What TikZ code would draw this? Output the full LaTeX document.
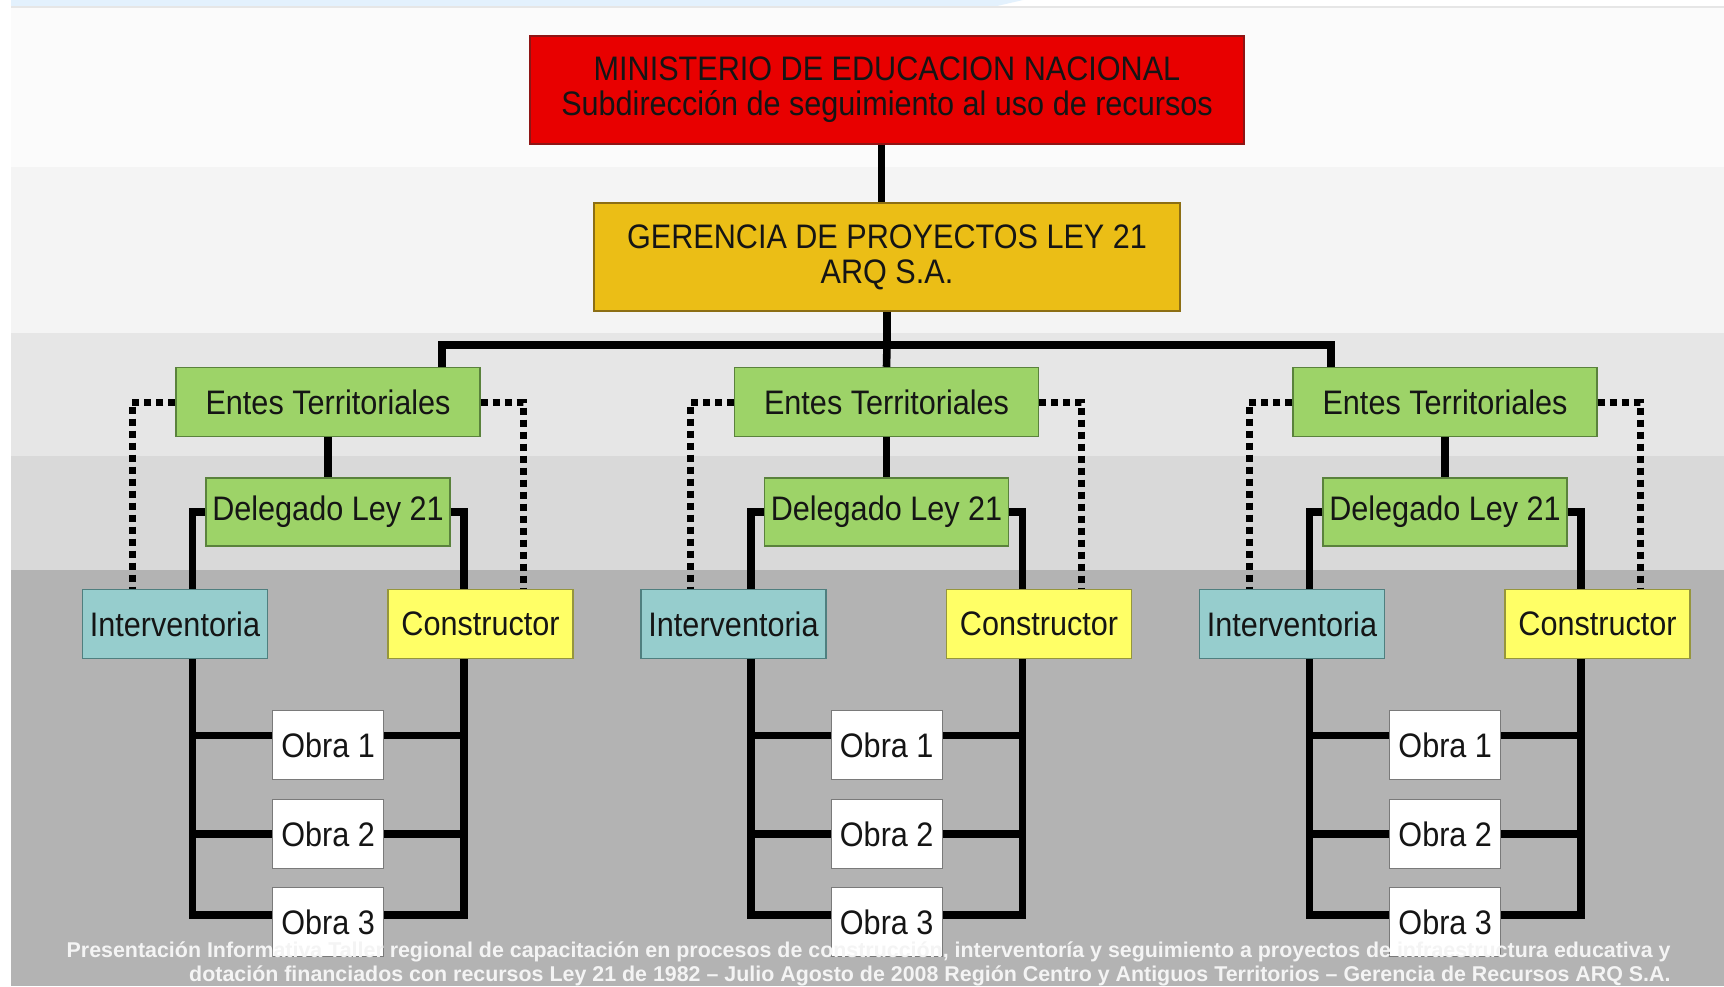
\documentclass[tikz,border=0pt]{standalone}
\usepackage{fontspec}
\setmainfont{Liberation Sans}[FakeStretch=0.9]
\newfontfamily\footfont{Liberation Sans}
\usetikzlibrary{calc}
\definecolor{topblue}{HTML}{E3F1FD}
\definecolor{bandA}{HTML}{FBFBFB}
\definecolor{bandB}{HTML}{F4F4F4}
\definecolor{bandC}{HTML}{E6E6E6}
\definecolor{bandD}{HTML}{D9D9D9}
\definecolor{bandE}{HTML}{B3B3B3}
\definecolor{redfill}{HTML}{E80000}
\definecolor{redline}{HTML}{8E1515}
\definecolor{goldfill}{HTML}{EBBE16}
\definecolor{goldline}{HTML}{8C6E14}
\definecolor{greenfill}{HTML}{9DD368}
\definecolor{greenline}{HTML}{5A823C}
\definecolor{tealfill}{HTML}{96CDCD}
\definecolor{tealline}{HTML}{4F7F7F}
\definecolor{yelfill}{HTML}{FFFF66}
\definecolor{yelline}{HTML}{96963C}
\definecolor{obraline}{HTML}{7A7A7A}
\definecolor{foottext}{HTML}{F4F4F4}
\definecolor{inktext}{HTML}{151515}
\tikzset{
  basebox/.style={draw, line width=0.7pt, inner sep=0pt, align=center, text=inktext,
    font=\fontsize{17pt}{17.5pt}\selectfont},
  redbox/.style={basebox, fill=redfill, draw=redline, minimum width=357pt, minimum height=54pt},
  goldbox/.style={basebox, fill=goldfill, draw=goldline, minimum width=293pt, minimum height=54pt},
  entesbox/.style={basebox, fill=greenfill, draw=greenline, minimum width=152pt, minimum height=34.5pt},
  delbox/.style={basebox, fill=greenfill, draw=greenline, minimum width=122pt, minimum height=34pt},
  intbox/.style={basebox, fill=tealfill, draw=tealline, minimum width=92.5pt, minimum height=34.5pt},
  conbox/.style={basebox, fill=yelfill, draw=yelline, minimum width=92.5pt, minimum height=34.5pt},
  obrabox/.style={basebox, fill=white, draw=obraline, minimum width=55.5pt, minimum height=34.5pt},
  conn/.style={draw=black, line width=3.8pt, line join=miter},
  dots/.style={draw=black, line width=3.5pt, dash pattern=on 3.5pt off 2.5pt},
  foot/.style={inner sep=0pt, text=foottext, font=\footfont\bfseries\fontsize{10.7pt}{12pt}\selectfont}
}
\begin{document}
\begin{tikzpicture}[x=0.5pt, y=-0.5pt]
\useasboundingbox (0,0) rectangle (1724,986);
% background
\fill[white] (0,0) rectangle (1724,986);
\fill[bandA] (11,7) rectangle (1724,167);
\fill[bandB] (11,167) rectangle (1724,333);
\fill[bandC] (11,333) rectangle (1724,456);
\fill[bandD] (11,456) rectangle (1724,570);
\fill[bandE] (11,570) rectangle (1724,986);
\fill[topblue] (11,0) -- (1023,0) -- (997,6) -- (11,6) -- cycle;
\fill[bandC] (11,6) rectangle (1724,7.5);

% top boxes
\node[redbox] (min) at (887,90) {MINISTERIO DE EDUCACION NACIONAL\\Subdirección de seguimiento al uso de recursos};
\node[goldbox] (ger) at (887,257) {GERENCIA DE PROYECTOS LEY 21\\ARQ S.A.};

\foreach \g in {0,1,2} {
  \pgfmathsetmacro{\dx}{558.5*\g}
  \node[entesbox] (e\g) at (328+\dx,402) {Entes Territoriales};
  \node[delbox] (d\g) at (328+\dx,512) {Delegado Ley 21};
  \node[intbox] (i\g) at (175+\dx,624) {Interventoria};
  \node[conbox] (c\g) at (480.5+\dx,624) {Constructor};
  \node[obrabox] (oa\g) at (328.2+\dx,745) {Obra 1};
  \node[obrabox] (ob\g) at (328.2+\dx,834) {Obra 2};
  \node[obrabox] (oc\g) at (328.2+\dx,922) {Obra 3};
  % connectors
  \draw[conn] (e\g.south) -- (d\g.north);
  \draw[conn] (d\g.west) -| ([xshift=8.75pt]i\g.north);
  \draw[conn] (d\g.east) -| ([xshift=-8.25pt]c\g.north);
  \draw[dots] (e\g.west) -| ([xshift=-21.5pt]i\g.north);
  \draw[dots] (e\g.east) -| ([xshift=21.25pt]c\g.north);
  \coordinate (li\g) at ([xshift=8.75pt]i\g.south);
  \coordinate (ri\g) at ([xshift=-8.25pt]c\g.south);
  \coordinate (oaL\g) at ([yshift=4.7pt]oa\g.west);
  \coordinate (oaR\g) at ([yshift=4.7pt]oa\g.east);
  \coordinate (ocL\g) at ([yshift=3.5pt]oc\g.west);
  \coordinate (ocR\g) at ([yshift=3.5pt]oc\g.east);
  \draw[conn] (li\g) |- (ocL\g);
  \draw[conn] (ri\g) |- (ocR\g);
  \draw[conn] (oaL\g) -- (li\g |- oaL\g);
  \draw[conn] (oaR\g) -- (ri\g |- oaR\g);
  \draw[conn] (ob\g.west) -- (li\g |- ob\g.west);
  \draw[conn] (ob\g.east) -- (ri\g |- ob\g.east);
}

% top connectors
\coordinate (busL) at (442,345);
\coordinate (busM) at (887,345);
\coordinate (busR) at (1331,345);
\draw[conn] ([xshift=-2.75pt]min.south) -- ([xshift=-2.75pt]ger.north);
\draw[conn] (ger.south) -- (busM);
\draw[conn] (busL |- e0.north) -- (busL) -- (busR) -- (busR |- e2.north);
\draw[conn] (busM) -- (e1.north);

% footer
\node[foot, anchor=base east] (f1) at (1671,957) {Presentación Informativa Taller regional de capacitación en procesos de construcción, interventoría y seguimiento a proyectos de infraestructura educativa y};
\node[foot, anchor=base east] (f2) at (1671,981) {dotación financiados con recursos Ley 21 de 1982 – Julio Agosto de 2008 Región Centro y Antiguos Territorios – Gerencia de Recursos ARQ S.A.};
\end{tikzpicture}
\end{document}
